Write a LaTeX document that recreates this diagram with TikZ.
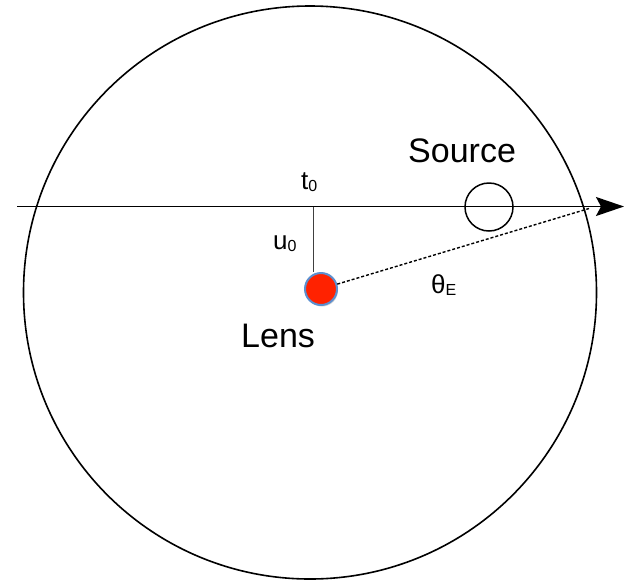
\documentclass[tikz,border=0pt]{standalone}
\usepackage{fontspec}
\setmainfont{Liberation Sans}
\usetikzlibrary{arrows.meta,shadows}
\tikzset{
  lbl/.style={anchor=base west, inner sep=0pt, text=black},
  big/.style={lbl, font=\fontsize{34}{40}\selectfont},
  sml/.style={lbl, font=\fontsize{26}{30}\selectfont},
  thinline/.style={line width=1.6pt, draw=black},
  dot/.style={circle, minimum size=32pt, inner sep=0pt, fill=lensred, draw=lensblue, line width=2pt, drop shadow={shadow xshift=1pt, shadow yshift=-1.5pt, opacity=0.35}},
}
\definecolor{lensred}{HTML}{FF2200}
\definecolor{lensblue}{HTML}{5B8FCF}
\newcommand{\sbs}[1]{\raisebox{-2pt}{\fontsize{16}{18}\selectfont #1}}
\begin{document}
\begin{tikzpicture}[x=1pt,y=-1pt]
\useasboundingbox (0,0) rectangle (626,582);
% big circle
\draw[thinline] (310,292.5) circle (286.5);
% axis
\coordinate (start) at (17,206.5);
\coordinate (tip) at (624,206.5);
\coordinate (foot) at (313.5,206.5);
\coordinate (rim) at (589,208.5);
\draw[thinline, -{Stealth[length=28pt, width=19pt, inset=5pt]}] (start) -- (tip);
% source
\node[circle, draw=black, line width=1.5pt, minimum size=48pt, inner sep=0pt] (source) at (489,207) {};
% lens
\node[dot] (lens) at (321,289) {};
\draw[line width=1.5pt, draw=black!75] (foot) -- (lens.north -| foot);
\draw[line width=1.4pt, dash pattern=on 3pt off 2pt] (lens) -- (rim);
% labels
\node[big] (srclbl) at (408,162) {Source};
\node[big] (lenslbl) at (241,347) {Lens};
\node[sml] (tlbl) at (301,189) {t\sbs{0}};
\node[sml] (ulbl) at (273,249) {u\sbs{0}};
\node[sml] (thlbl) at (431,293) {θ\sbs{E}};
\end{tikzpicture}
\end{document}
